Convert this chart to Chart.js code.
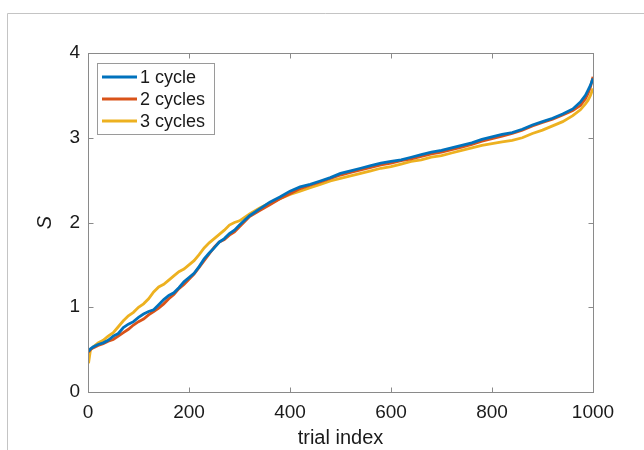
<!DOCTYPE html>
<html>
<head>
<meta charset="utf-8">
<script src="https://cdn.jsdelivr.net/npm/chart.js@4/dist/chart.umd.min.js"></script>
<style>
  html, body { margin: 0; padding: 0; background: #fff; }
  #wrap { width: 644px; height: 450px; position: relative; }
</style>
</head>
<body>
<div id="wrap"><canvas id="c" width="644" height="450"></canvas></div>
<script>
// ---- data ----
const seriesLabels = ["1 cycle", "2 cycles", "3 cycles"];
const seriesColors = ["#0072BD", "#D95319", "#EDB120"];

const trialIdx = [1, 5, 10, 20, 30, 40, 50, 60, 70, 80, 90, 100, 110, 120, 130, 140, 150, 160, 170, 180, 190,
  200, 210, 220, 230, 240, 250, 260, 270, 280, 290, 300,
  320, 340, 360, 380, 400, 420, 440, 460, 480, 500, 520, 540, 560, 580, 600, 620, 640, 660, 680, 700,
  720, 740, 760, 780, 800, 820, 840, 860, 880, 900, 920, 940, 960, 975, 985, 990, 995, 1000];

const cycle1 = [0.48, 0.51, 0.53, 0.56, 0.58, 0.61, 0.66, 0.69, 0.76, 0.80, 0.83, 0.88, 0.92, 0.95, 0.97, 1.03, 1.09, 1.14, 1.17, 1.23, 1.30,
  1.35, 1.40, 1.48, 1.57, 1.64, 1.70, 1.77, 1.81, 1.87, 1.91, 1.97,
  2.08, 2.16, 2.24, 2.30, 2.37, 2.42, 2.45, 2.49, 2.53, 2.58, 2.61, 2.64, 2.67, 2.70, 2.72, 2.74, 2.77, 2.80, 2.83, 2.85,
  2.88, 2.91, 2.94, 2.98, 3.01, 3.04, 3.06, 3.10, 3.15, 3.19, 3.23, 3.28, 3.34, 3.42, 3.50, 3.56, 3.62, 3.70];

const cycle2 = [0.47, 0.50, 0.52, 0.55, 0.57, 0.60, 0.62, 0.66, 0.70, 0.74, 0.79, 0.83, 0.86, 0.91, 0.95, 0.99, 1.04, 1.10, 1.15, 1.22, 1.27,
  1.33, 1.39, 1.47, 1.55, 1.63, 1.71, 1.77, 1.80, 1.85, 1.89, 1.95,
  2.07, 2.14, 2.21, 2.28, 2.34, 2.40, 2.44, 2.48, 2.52, 2.56, 2.59, 2.62, 2.65, 2.68, 2.70, 2.73, 2.75, 2.78, 2.81, 2.83,
  2.86, 2.89, 2.92, 2.96, 2.99, 3.02, 3.05, 3.09, 3.14, 3.18, 3.22, 3.27, 3.32, 3.38, 3.46, 3.52, 3.60, 3.72];

const cycle3 = [0.34, 0.50, 0.53, 0.58, 0.61, 0.66, 0.70, 0.77, 0.84, 0.90, 0.94, 1.00, 1.04, 1.10, 1.18, 1.24, 1.27, 1.32, 1.37, 1.42, 1.45,
  1.50, 1.55, 1.62, 1.70, 1.76, 1.81, 1.86, 1.91, 1.97, 2.00, 2.02,
  2.10, 2.17, 2.23, 2.28, 2.33, 2.37, 2.41, 2.45, 2.49, 2.52, 2.55, 2.58, 2.61, 2.64, 2.66, 2.69, 2.72, 2.74, 2.77, 2.79,
  2.82, 2.85, 2.88, 2.91, 2.93, 2.95, 2.97, 3.00, 3.05, 3.09, 3.14, 3.19, 3.26, 3.33, 3.40, 3.44, 3.50, 3.58];

const xTicks = [0, 200, 400, 600, 800, 1000];
const yTicks = [0, 1, 2, 3, 4];

// ---- chart ----
const FONT = "'Liberation Sans', Arial, Helvetica, sans-serif";
const AXIS_COLOR = "#8a8a8a";
const TEXT_COLOR = "#1a1a1a";

const allSeries = [cycle1, cycle2, cycle3];
const datasets = allSeries.map((vals, k) => ({
  label: seriesLabels[k],
  data: trialIdx.map((t, i) => ({ x: t, y: vals[i] })),
  borderColor: seriesColors[k],
  backgroundColor: seriesColors[k],
  borderWidth: 2.8,
  pointRadius: 0,
  tension: 0,
  fill: false
}));

const framePlugin = {
  id: 'frame',
  beforeDraw(chart) {
    const ctx = chart.ctx;
    ctx.save();
    ctx.fillStyle = '#fff';
    ctx.fillRect(0, 0, chart.width, chart.height);
    ctx.strokeStyle = '#c4c4c4';
    ctx.lineWidth = 1;
    ctx.beginPath();
    ctx.moveTo(7.5, chart.height);
    ctx.lineTo(7.5, 13.5);
    ctx.lineTo(chart.width, 13.5);
    ctx.stroke();
    ctx.restore();
  },
  afterDatasetsDraw(chart) {
    const ctx = chart.ctx;
    const a = chart.chartArea;
    const xs = chart.scales.x, ys = chart.scales.y;
    const L = Math.round(a.left) + 0.5, R = Math.round(a.right) + 0.5;
    const T = Math.round(a.top) + 0.5, B = Math.round(a.bottom) + 0.5;
    ctx.save();
    ctx.strokeStyle = AXIS_COLOR;
    ctx.lineWidth = 1;
    ctx.strokeRect(L, T, R - L, B - T);
    const tl = 5;
    ctx.beginPath();
    xTicks.forEach(v => {
      const px = Math.round(xs.getPixelForValue(v)) + 0.5;
      ctx.moveTo(px, B); ctx.lineTo(px, B - tl);
      ctx.moveTo(px, T); ctx.lineTo(px, T + tl);
    });
    yTicks.forEach(v => {
      const py = Math.round(ys.getPixelForValue(v)) + 0.5;
      ctx.moveTo(L, py); ctx.lineTo(L + tl, py);
      ctx.moveTo(R, py); ctx.lineTo(R - tl, py);
    });
    ctx.stroke();

    // legend
    const lx = 97.5, ly = 63.5, lw = 117, lh = 71;
    ctx.fillStyle = '#fff';
    ctx.fillRect(lx, ly, lw, lh);
    ctx.strokeStyle = '#9a9a9a';
    ctx.strokeRect(lx, ly, lw, lh);
    ctx.font = "18px " + FONT;
    ctx.textBaseline = 'middle';
    ctx.textAlign = 'left';
    chart.data.datasets.forEach((ds, k) => {
      const y = 77 + k * 22;
      ctx.strokeStyle = ds.borderColor;
      ctx.lineWidth = 3;
      ctx.beginPath();
      ctx.moveTo(102, y); ctx.lineTo(137, y);
      ctx.stroke();
      ctx.fillStyle = TEXT_COLOR;
      ctx.fillText(ds.label, 140, y + 1);
    });
    ctx.restore();
  }
};

new Chart(document.getElementById('c'), {
  type: 'line',
  data: { datasets },
  plugins: [framePlugin],
  options: {
    responsive: false,
    animation: false,
    layout: { padding: { left: 0, top: 53, right: 51, bottom: 0 } },
    plugins: { legend: { display: false }, tooltip: { enabled: false } },
    scales: {
      x: {
        type: 'linear',
        min: 0, max: 1000,
        afterFit(s) { s.height = 58; },
        afterBuildTicks(s) { s.ticks = xTicks.map(v => ({ value: v })); },
        grid: { display: false, drawTicks: false },
        border: { display: false },
        ticks: { color: TEXT_COLOR, font: { family: FONT, size: 19 }, padding: 9, maxRotation: 0, callback: v => String(v) },
        title: { display: true, text: 'trial index', color: TEXT_COLOR, font: { family: FONT, size: 20 }, padding: { top: 0, bottom: 0 } }
      },
      y: {
        type: 'linear',
        min: 0, max: 4,
        afterFit(s) { s.width = 88; },
        afterBuildTicks(s) { s.ticks = yTicks.map(v => ({ value: v })); },
        grid: { display: false, drawTicks: false },
        border: { display: false },
        ticks: { color: TEXT_COLOR, font: { family: FONT, size: 19 }, padding: 8, callback: v => String(v) },
        title: { display: true, text: 'S', color: TEXT_COLOR, font: { family: FONT, size: 20, style: 'italic' }, padding: { top: 33, bottom: 0 } }
      }
    }
  }
});
</script>
</body>
</html>
